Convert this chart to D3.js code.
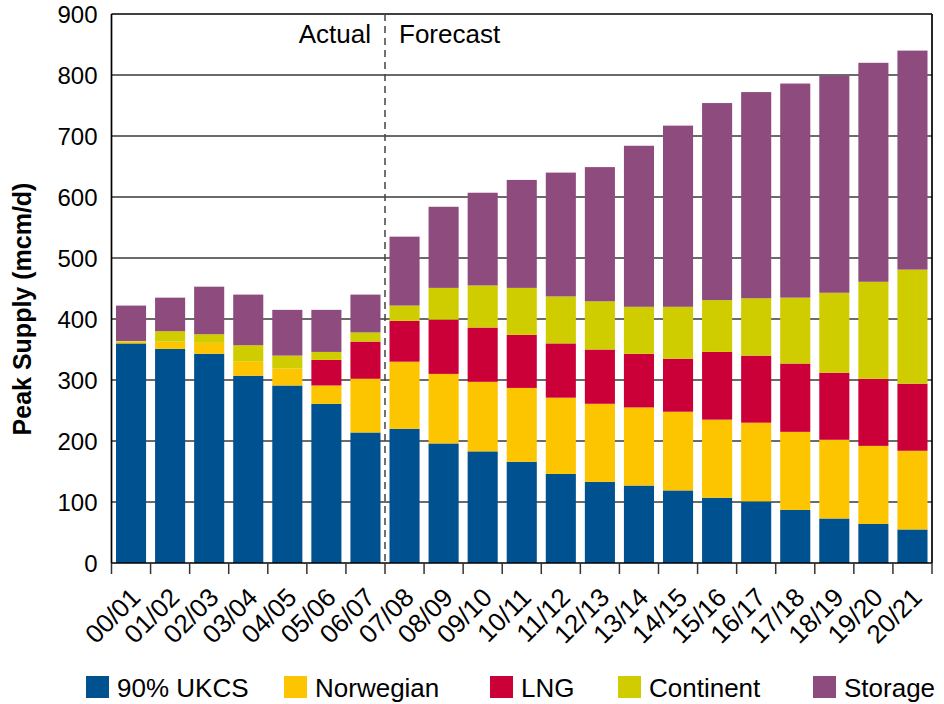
<!DOCTYPE html>
<html>
<head>
<meta charset="utf-8">
<script src="https://cdn.jsdelivr.net/npm/d3@7"></script>
<style>
  body { margin: 0; background: #fff; }
  text { font-family: "Liberation Sans", Arial, sans-serif; fill: #000; }
</style>
</head>
<body>
<script>
var years = ["00/01","01/02","02/03","03/04","04/05","05/06","06/07","07/08","08/09","09/10",
  "10/11","11/12","12/13","13/14","14/15","15/16","16/17","17/18","18/19","19/20","20/21"]
var ukcs      = [360,351,343,307,291,261,214,220,196,183,166,146,133,127,119,107,101,87,73,64,55]
var norwegian = [3,12,18,23,28,30,88,110,114,114,121,125,128,128,129,128,129,128,129,128,129]
var lng       = [0,0,0,0,0,42,61,67,89,89,87,89,89,88,87,111,110,112,110,110,110]
var continent = [1,17,14,27,21,13,15,25,52,69,77,77,79,77,85,85,94,108,131,159,187]
var storage   = [58,55,78,83,75,69,62,113,133,152,177,203,220,264,297,323,338,351,356,359,359]
var yTicks = [0,100,200,300,400,500,600,700,800,900]

var seriesNames = ["90% UKCS","Norwegian","LNG","Continent","Storage"]
var seriesColors = ["#00518f","#fdc400","#cc0038","#cfcc00","#8e4c7e"]
var seriesValues = [ukcs, norwegian, lng, continent, storage]

var width = 944, height = 704
var plotLeft = 111.5, plotRight = 932, plotTop = 14, plotBottom = 563

var rows = years.map(function(y, i) {
  var r = {year: y}
  seriesNames.forEach(function(s, k) { r[s] = seriesValues[k][i] })
  return r
})
var stacked = d3.stack().keys(seriesNames)(rows)

var x = d3.scaleBand().domain(years).range([plotLeft, plotRight]).paddingInner(0.23).paddingOuter(0.115)
var y = d3.scaleLinear().domain([0, 900]).range([plotBottom, plotTop])

var svg = d3.select("body").append("svg")
  .attr("width", width)
  .attr("height", height)

// gridlines
svg.append("g").selectAll("line").data(yTicks.slice(1))
  .join("line")
  .attr("x1", plotLeft).attr("x2", plotRight)
  .attr("y1", function(d) { return y(d) }).attr("y2", function(d) { return y(d) })
  .attr("stroke", function(d) { return d == 900 ? "#000" : "#3a3a3a" })
  .attr("stroke-width", 1.7)

// bars
svg.append("g").selectAll("g").data(stacked)
  .join("g")
  .attr("fill", function(d, i) { return seriesColors[i] })
  .selectAll("rect").data(function(d) { return d })
  .join("rect")
  .attr("x", function(d) { return x(d.data.year) })
  .attr("width", x.bandwidth())
  .attr("y", function(d) { return y(d[1]) })
  .attr("height", function(d) { return y(d[0]) - y(d[1]) })

// frame
svg.append("line").attr("x1", plotRight).attr("x2", plotRight).attr("y1", plotTop).attr("y2", plotBottom)
  .attr("stroke", "#000").attr("stroke-width", 1.7)
svg.append("line").attr("x1", plotLeft).attr("x2", plotLeft).attr("y1", plotTop).attr("y2", plotBottom)
  .attr("stroke", "#000").attr("stroke-width", 1.7)
svg.append("line").attr("x1", plotLeft).attr("x2", plotRight).attr("y1", plotBottom).attr("y2", plotBottom)
  .attr("stroke", "#000").attr("stroke-width", 1.7)

// x ticks at band edges
var half = x.step() * x.paddingInner() / 2
var edges = years.map(function(d) { return x(d) - half }).concat([x(years[years.length - 1]) + x.bandwidth() + half])
svg.append("g").selectAll("line").data(edges)
  .join("line")
  .attr("x1", function(d) { return d }).attr("x2", function(d) { return d })
  .attr("y1", plotBottom).attr("y2", plotBottom + 11)
  .attr("stroke", "#333").attr("stroke-width", 1.5)

svg.append("g").selectAll("text").data(years)
  .join("text")
  .attr("transform", function(d) {
    return "translate(" + (x(d) + x.bandwidth() / 2 + 11) + "," + (plotBottom + 36) + ") rotate(-45)"
  })
  .attr("text-anchor", "end")
  .attr("font-size", 26)
  .text(function(d) { return d })

// y tick labels
svg.append("g").selectAll("text").data(yTicks)
  .join("text")
  .attr("x", plotLeft - 14)
  .attr("y", function(d) { return y(d) })
  .attr("dy", "0.36em")
  .attr("text-anchor", "end")
  .attr("font-size", 24)
  .text(function(d) { return d })

svg.append("text")
  .attr("transform", "translate(31,309) rotate(-90)")
  .attr("text-anchor", "middle")
  .attr("font-size", 25)
  .attr("font-weight", "bold")
  .text("Peak Supply (mcm/d)")

// actual / forecast divider
var divX = x(years[7]) - half
svg.append("line")
  .attr("x1", divX).attr("x2", divX).attr("y1", plotTop).attr("y2", plotBottom)
  .attr("stroke", "#444").attr("stroke-width", 1.5)
  .attr("stroke-dasharray", "7 5")
svg.append("text").attr("x", divX - 14).attr("y", 43).attr("text-anchor", "end")
  .attr("font-size", 26).text("Actual")
svg.append("text").attr("x", divX + 14).attr("y", 43)
  .attr("font-size", 26).text("Forecast")

// legend
var legendX = [86, 284, 490, 618, 813]
var legend = svg.append("g").selectAll("g").data(seriesNames)
  .join("g")
  .attr("transform", function(d, i) { return "translate(" + legendX[i] + ",676)" })
legend.append("rect")
  .attr("width", 23).attr("height", 22)
  .attr("fill", function(d, i) { return seriesColors[i] })
legend.append("text")
  .attr("x", 31).attr("y", 21)
  .attr("font-size", 26)
  .text(function(d) { return d })
</script>
</body>
</html>
